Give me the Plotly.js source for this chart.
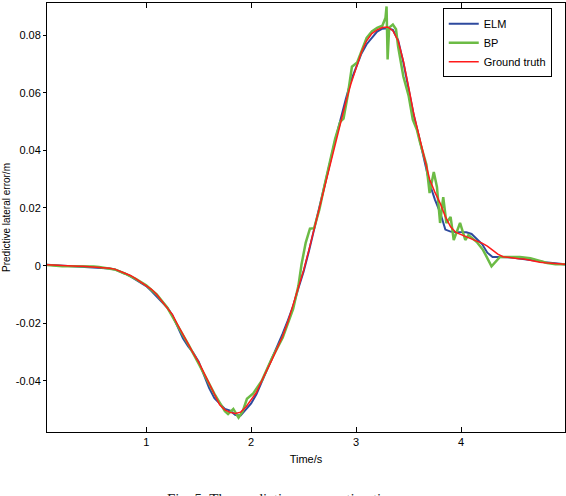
<!DOCTYPE html>
<html>
<head>
<meta charset="utf-8">
<script src="https://cdn.plot.ly/plotly-3.0.1.min.js"></script>
<style>html,body{margin:0;padding:0;background:#fff;}#chart{width:566px;height:496px;}</style>
</head>
<body>
<div id="chart"></div>
<script>
// Time axis for ELM and ground truth (s)
const time = [0.05,0.10,0.15,0.20,0.25,0.30,0.35,0.40,0.45,0.50,0.55,0.60,0.65,0.70,0.75,0.80,0.85,0.90,0.95,1.00,
1.05,1.10,1.15,1.20,1.25,1.30,1.35,1.40,1.45,1.50,1.55,1.60,1.65,1.70,1.75,1.80,1.85,1.90,1.95,2.00,
2.05,2.10,2.15,2.20,2.25,2.30,2.35,2.40,2.45,2.50,2.55,2.60,2.65,2.70,2.75,2.80,2.85,2.90,2.95,3.00,
3.05,3.10,3.15,3.20,3.25,3.30,3.35,3.40,3.45,3.50,3.55,3.60,3.65,3.70,3.75,3.80,3.85,3.90,3.95,4.00,
4.05,4.10,4.15,4.20,4.25,4.30,4.35,4.40,4.45,4.50,4.55,4.60,4.65,4.70,4.75,4.80,4.85,4.90,4.95,5.00];

const groundTruth = [0.0003,0.0002,0.0000,0.0000,-0.0002,-0.0002,-0.0002,-0.0002,-0.0003,-0.0005,-0.0005,-0.0007,-0.0009,-0.0012,-0.0019,-0.0026,-0.0034,-0.0045,-0.0058,-0.0069,
-0.0082,-0.0100,-0.0122,-0.0146,-0.0170,-0.0205,-0.0240,-0.0275,-0.0305,-0.0335,-0.0372,-0.0410,-0.0448,-0.0483,-0.0500,-0.0509,-0.0513,-0.0508,-0.0490,-0.0466,
-0.0440,-0.0400,-0.0365,-0.0325,-0.0285,-0.0245,-0.0195,-0.0135,-0.0070,-0.0016,0.0054,0.0128,0.0200,0.0275,0.0350,0.0425,0.0500,0.0565,0.0630,0.0688,
0.0740,0.0780,0.0805,0.0818,0.0826,0.0828,0.0815,0.0780,0.0710,0.0620,0.0525,0.0450,0.0375,0.0300,0.0255,0.0217,0.0170,0.0135,0.0115,0.0107,
0.0099,0.0092,0.0085,0.0078,0.0068,0.0054,0.0040,0.0031,0.0028,0.0026,0.0024,0.0023,0.0019,0.0016,0.0012,0.0010,0.0009,0.0009,0.0007,0.0005];

const elm = [0.0003,0.0002,0.0000,0.0000,-0.0002,-0.0002,-0.0003,-0.0003,-0.0004,-0.0006,-0.0007,-0.0009,-0.0010,-0.0013,-0.0020,-0.0028,-0.0037,-0.0049,-0.0060,-0.0071,
-0.0088,-0.0108,-0.0125,-0.0145,-0.0172,-0.0213,-0.0252,-0.0280,-0.0303,-0.0333,-0.0380,-0.0425,-0.0460,-0.0480,-0.0497,-0.0503,-0.0518,-0.0520,-0.0500,-0.0478,
-0.0446,-0.0405,-0.0362,-0.0320,-0.0278,-0.0236,-0.0190,-0.0140,-0.0078,-0.0020,0.0050,0.0124,0.0198,0.0276,0.0356,0.0434,0.0510,0.0575,0.0640,0.0690,
0.0735,0.0768,0.0792,0.0812,0.0822,0.0823,0.0818,0.0782,0.0705,0.0615,0.0520,0.0445,0.0368,0.0285,0.0230,0.0185,0.0125,0.0118,0.0117,0.0117,
0.0116,0.0110,0.0092,0.0075,0.0045,0.0030,0.0030,0.0030,0.0029,0.0027,0.0025,0.0023,0.0021,0.0018,0.0015,0.0012,0.0010,0.0008,0.0006,0.0004];

// BP prediction (own time samples)
const timeBP = [0.05,0.10,0.15,0.20,0.30,0.40,0.50,0.55,0.60,0.70,0.80,0.90,1.00,1.10,1.20,1.30,1.40,1.50,1.60,1.65,
1.70,1.75,1.78,1.83,1.88,1.92,1.96,2.02,2.10,2.20,2.30,2.40,2.45,2.48,2.52,2.56,2.60,2.65,2.70,2.75,
2.80,2.85,2.88,2.92,2.96,3.01,3.05,3.10,3.15,3.20,3.25,3.28,3.29,3.30,3.315,3.35,3.38,3.40,3.45,3.50,
3.54,3.58,3.61,3.64,3.67,3.70,3.74,3.77,3.80,3.83,3.86,3.90,3.93,3.99,4.04,4.07,4.15,4.21,4.29,4.37,
4.56,4.66,4.82,4.90,5.00];
const bp = [0.0002,0.0000,-0.0001,-0.0002,-0.0002,-0.0002,-0.0003,-0.0005,-0.0008,-0.0013,-0.0028,-0.0046,-0.0068,-0.0100,-0.0145,-0.0208,-0.0272,-0.0340,-0.0412,-0.0445,
-0.0475,-0.0505,-0.0515,-0.0497,-0.0527,-0.0505,-0.0462,-0.0443,-0.0400,-0.0320,-0.0250,-0.0150,-0.0070,0.0005,0.0080,0.0128,0.0130,0.0195,0.0280,0.0360,
0.0440,0.0500,0.0510,0.0590,0.0690,0.0705,0.0745,0.0790,0.0812,0.0825,0.0832,0.0860,0.0899,0.0715,0.0826,0.0836,0.0820,0.0760,0.0656,0.0590,
0.0506,0.0470,0.0426,0.0390,0.0350,0.0252,0.0325,0.0273,0.0148,0.0238,0.0148,0.0169,0.0089,0.0148,0.0089,0.0106,0.0082,0.0054,-0.0002,0.0030,
0.0030,0.0026,0.0009,0.0005,0.0005];

const seriesNames = ['ELM','BP','Ground truth'];
const xTickVals = [1,2,3,4];
const xTickLabels = ['1','2','3','4'];
const yTickVals = [-0.04,-0.02,0,0.02,0.04,0.06,0.08];
const yTickLabels = ['-0.04','-0.02','0','0.02','0.04','0.06','0.08'];

const traces = [
  {x: time, y: elm, name: seriesNames[0], type: 'scatter', mode: 'lines', line: {color: '#2E4A9E', width: 2}},
  {x: timeBP, y: bp, name: seriesNames[1], type: 'scatter', mode: 'lines', line: {color: '#6CBB45', width: 2.5}},
  {x: time, y: groundTruth, name: seriesNames[2], type: 'scatter', mode: 'lines', line: {color: '#FF1A1A', width: 1.5}}
];

const font = {family: '"Liberation Sans", Arial, sans-serif', size: 11, color: '#000'};

const layout = {
  width: 566, height: 496,
  margin: {l: 47, r: 1, t: 3, b: 64, pad: 0},
  paper_bgcolor: '#fff', plot_bgcolor: '#fff',
  font: font,
  showlegend: true,
  legend: {
    x: 0.764, y: 0.988, xanchor: 'left', yanchor: 'top',
    bgcolor: '#fff', bordercolor: '#000', borderwidth: 1,
    font: {family: font.family, size: 11, color: '#000'},
    tracegroupgap: 0
  },
  xaxis: {
    range: [0.055, 4.99],
    tickmode: 'array', tickvals: xTickVals, ticktext: xTickLabels,
    ticks: 'inside', ticklen: 5, tickcolor: '#000', tickwidth: 1,
    showline: true, linecolor: '#000', linewidth: 1, mirror: 'allticks',
    showgrid: false, zeroline: false,
    tickfont: font,
    title: {text: 'Time/s', font: font, standoff: 8}
  },
  yaxis: {
    range: [-0.0577, 0.0911],
    tickmode: 'array', tickvals: yTickVals, ticktext: yTickLabels,
    ticks: 'outside', ticklen: 3, tickcolor: '#000', tickwidth: 1,
    showline: true, linecolor: '#000', linewidth: 1, mirror: true,
    showgrid: false, zeroline: false,
    tickfont: font,
    title: {text: 'Predictive lateral error/m', font: {family: font.family, size: 10, color: '#000'}, standoff: 3}
  },
  yaxis2: {
    overlaying: 'y', side: 'right', matches: 'y', range: [-0.0577, 0.0911],
    tickmode: 'array', tickvals: yTickVals, showticklabels: false,
    ticks: 'inside', ticklen: 4, tickcolor: '#000',
    showline: false, showgrid: false, zeroline: false
  },
  annotations: [{
    xref: 'paper', yref: 'paper', x: 0.454, y: -0.133, xanchor: 'center', yanchor: 'top',
    text: 'Fig. 5. The prediction error estimation', showarrow: false,
    font: {family: '"Liberation Serif", "Times New Roman", serif', size: 15, color: '#222'}
  }]
};

Plotly.newPlot('chart', traces, layout, {displayModeBar: false, staticPlot: true});
</script>
</body>
</html>
